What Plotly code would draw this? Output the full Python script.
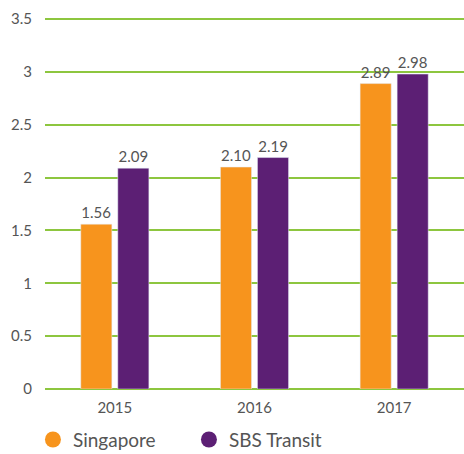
import plotly.graph_objects as go

years = ["2015", "2016", "2017"]
singapore = [1.56, 2.10, 2.89]
sbs_transit = [2.09, 2.19, 2.98]
series_names = ["Singapore", "SBS Transit"]
colors = ["#F7941D", "#5C1F74"]
y_ticks = [0, 0.5, 1, 1.5, 2, 2.5, 3, 3.5]
y_tick_text = ["0", "0.5", "1", "1.5", "2", "2.5", "3", "3.5"]

font_family = "Lato, Open Sans, sans-serif"
text_color = "#555555"
grid_color = "#8DC63F"

fig = go.Figure()
for name, vals, col in zip(series_names, [singapore, sbs_transit], colors):
    fig.add_trace(go.Bar(
        x=years, y=vals, name=name, marker_color=col,
        text=[f"{v:.2f}" for v in vals], textposition="outside",
        textfont=dict(size=15, color=text_color, family=font_family),
        cliponaxis=False, showlegend=False,
    ))
for name, col in zip(series_names, colors):
    fig.add_trace(go.Scatter(
        x=[None], y=[None], mode="markers", name=name,
        marker=dict(symbol="circle", size=18, color=col),
    ))

fig.update_layout(
    width=464, height=454,
    margin=dict(l=45, r=0, t=17, b=65, autoexpand=False),
    paper_bgcolor="white", plot_bgcolor="white",
    barmode="group", bargap=0.47, bargroupgap=0.16,
    font=dict(family=font_family, color=text_color, size=15),
    showlegend=True,
    legend=dict(
        orientation="h", xref="container", x=0.071, xanchor="left",
        yref="paper", y=-0.085, yanchor="top",
        font=dict(size=19, color=text_color, family=font_family),
        itemsizing="trace", itemwidth=30, tracegroupgap=0,
        entrywidth=111,
    ),
    xaxis=dict(
        showgrid=False, showline=False, zeroline=False, automargin=False,
        tickfont=dict(size=15, color=text_color), ticklabelstandoff=8,
        ticks="", range=[-0.5, 2.5],
    ),
    yaxis=dict(
        range=[0, 3.52], tickvals=y_ticks, ticktext=y_tick_text,
        showgrid=True, gridcolor=grid_color, gridwidth=1.5, automargin=False,
        zeroline=True, zerolinecolor=grid_color, zerolinewidth=1.5,
        showline=False, ticks="", ticklabelstandoff=12,
        tickfont=dict(size=15, color=text_color),
    ),
)

fig.write_html("out.html", config={"displayModeBar": False},
               post_script="document.body.style.margin='0';")
